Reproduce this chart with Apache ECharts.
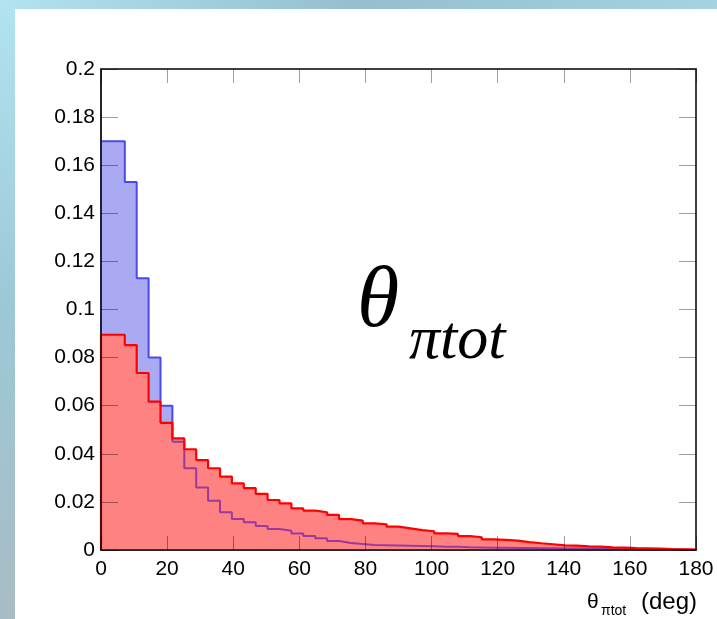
<!DOCTYPE html>
<html>
<head>
<meta charset="utf-8">
<script src="https://cdn.jsdelivr.net/npm/echarts@6/dist/echarts.min.js"></script>
<style>html,body{margin:0;padding:0;background:#fff}#c{width:717px;height:619px}</style>
</head>
<body>
<div id="c"></div>
<script>
// Histogram: theta_pi_tot (deg), 50 bins from 0 to 180
const xMin = 0, xMax = 180, nBins = 50;
const xTicks = [0, 20, 40, 60, 80, 100, 120, 140, 160, 180];
const yTicks = [0, 0.02, 0.04, 0.06, 0.08, 0.1, 0.12, 0.14, 0.16, 0.18, 0.2];
const blueValues = [
  0.170, 0.170, 0.153, 0.113, 0.080, 0.060, 0.045, 0.034, 0.026, 0.0205,
  0.0157, 0.0129, 0.0115, 0.0100, 0.0087, 0.0080, 0.0069, 0.0058, 0.0049, 0.0037,
  0.0029, 0.0025, 0.0021, 0.0020, 0.0019, 0.0018, 0.0017, 0.0016, 0.0014, 0.0013,
  0.0011, 0.0010, 0.0009, 0.0009, 0.0008, 0.0008, 0.0007, 0.0007, 0.0006, 0.0006,
  0.0006, 0.0005, 0.0005, 0.0005, 0.0004, 0.0004, 0.0004, 0.0003, 0.0002, 0.0001
];
const redValues = [
  0.0895, 0.0895, 0.0852, 0.0736, 0.0617, 0.0529, 0.0464, 0.0419, 0.0374, 0.0340,
  0.0305, 0.0277, 0.0257, 0.0233, 0.0208, 0.0194, 0.0173, 0.0164, 0.0157, 0.0146,
  0.0128, 0.0122, 0.0111, 0.0107, 0.0097, 0.0090, 0.0083, 0.0078, 0.0069, 0.0067,
  0.0058, 0.0053, 0.0044, 0.0042, 0.0039, 0.0033, 0.0028, 0.0024, 0.0019, 0.0018,
  0.0015, 0.0014, 0.0011, 0.0010, 0.0008, 0.0007, 0.0006, 0.0004, 0.0003, 0.0002
];

const binWidth = (xMax - xMin) / nBins;
function histPoints(vals) {
  const pts = [[xMin, 0]];
  vals.forEach((v, i) => pts.push([xMin + i * binWidth, v]));
  pts.push([xMax, vals[vals.length - 1]]);
  pts.push([xMax, 0]);
  return pts;
}
const bluePts = histPoints(blueValues);
const redPts = histPoints(redValues);
// blue outline above the red fill (first bins) vs. seen through the red fill (rest)
let splitIdx = 0;
while (splitIdx < blueValues.length && blueValues[splitIdx] > redValues[splitIdx]) splitIdx++;
const blueTopPts = bluePts.slice(0, splitIdx + 2);
const blueUnderPts = bluePts.slice(splitIdx + 1);

const chart = echarts.init(document.getElementById('c'), null, {renderer: 'canvas'});
const font = '"Liberation Sans", Arial, Helvetica, sans-serif';
const tickStyle = {color: 'rgba(0,0,0,0.38)', width: 1};

chart.setOption({
  animation: false,
  backgroundColor: '#ffffff',
  graphic: [
    {type: 'rect', z: -10, shape: {x: 0, y: 0, width: 717, height: 9},
     style: {fill: new echarts.graphic.LinearGradient(0, 0, 1, 0, [
       {offset: 0, color: '#b2e3f0'}, {offset: 0.5, color: '#94bfce'}, {offset: 1, color: '#a4d3e2'}])}},
    {type: 'rect', z: -10, shape: {x: 0, y: 0, width: 15, height: 619},
     style: {fill: new echarts.graphic.LinearGradient(0, 0, 0, 1, [
       {offset: 0, color: '#b2e3f0'}, {offset: 0.5, color: '#9cc8d6'}, {offset: 1, color: '#a9bcc5'}])}},
    {type: 'text', z: 10, x: 357, y: 303, style: {
      text: 'θ', fill: '#000', font: 'italic 86px "Liberation Serif", "Times New Roman", serif',
      verticalAlign: 'middle', align: 'left'}},
    {type: 'text', z: 10, x: 409, y: 342, style: {
      text: 'πtot', fill: '#000', font: 'italic 62px "Liberation Serif", "Times New Roman", serif',
      verticalAlign: 'middle', align: 'left'}},
    {type: 'text', z: 10, x: 587, y: 602, style: {
      text: 'θ', fill: '#000', font: '21px ' + font, verticalAlign: 'middle', align: 'left'}},
    {type: 'text', z: 10, x: 601, y: 611, style: {
      text: 'πtot', fill: '#000', font: '14px ' + font, verticalAlign: 'middle', align: 'left'}},
    {type: 'text', z: 10, x: 697, y: 602, style: {
      text: '(deg)', fill: '#000', font: '24px ' + font, verticalAlign: 'middle', align: 'right'}}
  ],
  grid: {left: 101, right: 21, top: 69, bottom: 69, show: true, borderColor: '#333', borderWidth: 1.5, backgroundColor: 'transparent'},
  xAxis: [
    {type: 'value', min: xMin, max: xMax, interval: 20, z: 5, position: 'bottom',
     axisLine: {show: true, onZero: false, lineStyle: {color: '#111', width: 1.5}},
     axisTick: {show: true, inside: true, length: 14, lineStyle: tickStyle},
     axisLabel: {show: true, margin: 9, fontSize: 21, fontFamily: font, color: '#000'},
     splitLine: {show: false}},
    {type: 'value', min: xMin, max: xMax, interval: 20, z: 5, position: 'top',
     axisLine: {show: true, onZero: false, lineStyle: {color: '#333', width: 1.5}},
     axisTick: {show: true, inside: true, length: 14, lineStyle: tickStyle},
     axisLabel: {show: false}, splitLine: {show: false}}
  ],
  yAxis: [
    {type: 'value', min: 0, max: 0.2, interval: 0.02, z: 5, position: 'left',
     axisLine: {show: true, onZero: false, lineStyle: {color: '#111', width: 1.5}},
     axisTick: {show: true, inside: true, length: 17, lineStyle: tickStyle},
     axisLabel: {show: true, margin: 6, fontSize: 21, fontFamily: font, color: '#000',
       formatter: v => String(+v.toFixed(2))},
     splitLine: {show: false}},
    {type: 'value', min: 0, max: 0.2, interval: 0.02, z: 5, position: 'right',
     axisLine: {show: true, onZero: false, lineStyle: {color: '#333', width: 1.5}},
     axisTick: {show: true, inside: true, length: 17, lineStyle: tickStyle},
     axisLabel: {show: false}, splitLine: {show: false}}
  ],
  series: [
    {type: 'line', name: 'blueFill', data: bluePts, step: 'end', symbol: 'none', z: 2,
     lineStyle: {width: 0, color: '#4a4ae8'}, areaStyle: {color: '#aaaaf2', opacity: 1}},
    {type: 'line', name: 'redFill', data: redPts, step: 'end', symbol: 'none', z: 3,
     lineStyle: {width: 0, color: '#ff0000'}, areaStyle: {color: '#ff8282', opacity: 1}},
    {type: 'line', name: 'blueLineTop', data: blueTopPts, step: 'end', symbol: 'none', z: 4,
     lineStyle: {width: 2, color: '#4a4ae8'}},
    {type: 'line', name: 'blueLineUnder', data: blueUnderPts, step: 'end', symbol: 'none', z: 4,
     lineStyle: {width: 2, color: '#9b3a9b'}},
    {type: 'line', name: 'redLine', data: redPts, step: 'end', symbol: 'none', z: 4,
     lineStyle: {width: 2.2, color: '#ff0000'}}
  ]
});
</script>
</body>
</html>
